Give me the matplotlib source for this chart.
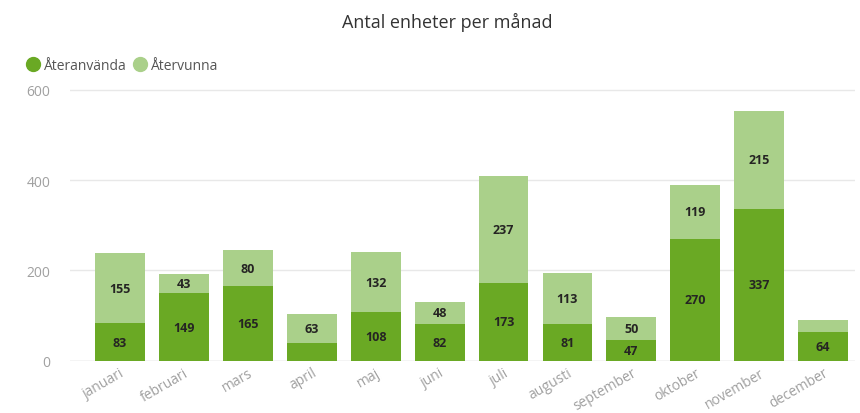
import matplotlib.pyplot as plt
from matplotlib.lines import Line2D
import numpy as np

plt.rcParams['font.family'] = ['Open Sans', 'DejaVu Sans']

manader = ["januari", "februari", "mars", "april", "maj", "juni", "juli",
           "augusti", "september", "oktober", "november", "december"]
ateranvanda = [83, 149, 165, 40, 108, 82, 173, 81, 47, 270, 337, 64]
atervunna = [155, 43, 80, 63, 132, 48, 237, 113, 50, 119, 215, 26]

DARK = "#6aa924"
LIGHT = "#aad08a"

fig = plt.figure(figsize=(8.6, 4.14), dpi=100)
ax = fig.add_axes([0.0814, 0.126, 0.913, 0.666])

x = np.arange(len(manader))
w = 0.78
b1 = ax.bar(x, ateranvanda, w, color=DARK, zorder=2)
b2 = ax.bar(x, atervunna, w, bottom=ateranvanda, color=LIGHT, zorder=2)

def labels(vals):
    # small segments get no label, like in the original
    return [str(v) if v > 41 else "" for v in vals]

ax.bar_label(b1, labels=labels(ateranvanda), label_type="center",
             fontsize=9, fontweight="bold", color="#252423")
ax.bar_label(b2, labels=labels(atervunna), label_type="center",
             fontsize=9, fontweight="bold", color="#252423")

ax.set_xlim(-0.78, 11.5)
ax.set_ylim(0, 610)
ax.set_yticks([0, 200, 400, 600])
ax.yaxis.grid(True, color="#e8e8e8", linewidth=1, zorder=0)
ax.set_xticks(x)
ax.set_xticklabels(manader, rotation=30, ha="right", rotation_mode="anchor")
ax.tick_params(axis="both", length=0, labelsize=10, labelcolor="#a0a0a0")
ax.tick_params(axis="y", pad=14)
ax.tick_params(axis="x", pad=3)
for s in ax.spines.values():
    s.set_visible(False)
ax.axhline(0, color="#e0e0e0", linewidth=1, zorder=1)

fig.text(0.52, 0.945, "Antal enheter per månad", ha="center", va="center",
         fontsize=13, color="#333333")

handles = [Line2D([], [], marker="o", linestyle="", markersize=10, color=DARK),
           Line2D([], [], marker="o", linestyle="", markersize=10, color=LIGHT)]
leg = fig.legend(handles, ["Återanvända", "Återvunna"], loc="upper left",
                 bbox_to_anchor=(0.025, 0.872), ncol=2, frameon=False,
                 fontsize=10, handlelength=0.8, handletextpad=0.45,
                 columnspacing=0.5, borderaxespad=0)
for t in leg.get_texts():
    t.set_color("#555555")

fig.savefig("out.png", dpi=100)
